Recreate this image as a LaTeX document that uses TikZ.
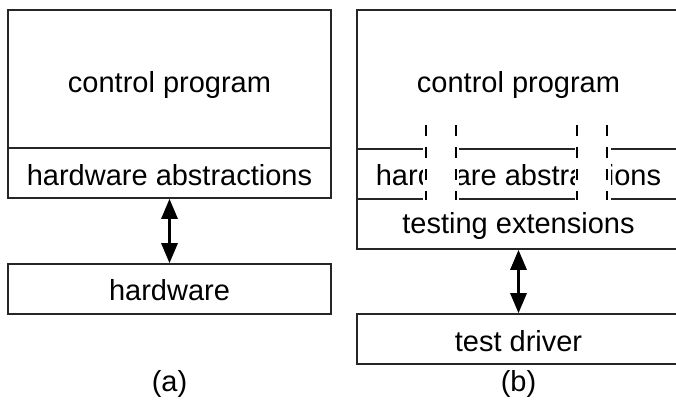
\documentclass[tikz,border=0pt]{standalone}
\usepackage{fontspec}
\setmainfont{Liberation Sans}
\usetikzlibrary{arrows.meta}
\begin{document}
\begin{tikzpicture}[x=1pt,y=-1pt,
  layer/.style={draw=black!85, line width=1.6pt, rectangle, inner sep=0pt, minimum width=323pt},
  lbl/.style={anchor=base, inner sep=0pt, font=\fontsize{29}{34}\selectfont},
  link/.style={line width=3pt, {Triangle[width=16pt,length=20pt]}-{Triangle[width=16pt,length=20pt]}},
  slit/.style={line width=1.3pt, dash pattern=on 11pt off 11pt},
]
\clip (0,0) rectangle (676,412);
\fill[white] (0,0) rectangle (676,412);

% (a) control program on the real hardware
\node[layer, minimum height=138pt] (cpa) at (169.5,79) {};
\node[layer, minimum height=50pt] (haa) at (169.5,173) {};
\node[layer, minimum height=50pt] (hwa) at (169.5,289) {};
\node[lbl] (tcpa) at (169.5,92) {control program};
\node[lbl] (thaa) at (169.5,185) {hardware abstractions};
\node[lbl] (thwa) at (169.5,300) {hardware};
\draw[link] (haa.south) -- (hwa.north);
\node[lbl] (capa) at (169.5,391) {(a)};

% (b) control program under test
\node[layer, minimum height=139pt] (cpb) at (518.5,79.5) {};
\node[layer, minimum height=50pt] (hab) at (518.5,174) {};
\node[layer, minimum height=50pt] (teb) at (518.5,224) {};
\node[layer, minimum height=50pt] (tdb) at (518.5,339) {};
\node[lbl] (tcpb) at (518.5,92) {control program};
\node[lbl] (thab) at (518.5,185) {hardware abstractions};
\node[lbl] (tteb) at (518.5,233) {testing extensions};
\node[lbl] (ttdb) at (518.5,351) {test driver};
\draw[link] (teb.south) -- (tdb.north);
\node[lbl] (capb) at (518.5,391) {(b)};

% calls that bypass the hardware abstractions
\fill[white] (423,121) rectangle (459,200.5);
\fill[white] (575,121) rectangle (611,200.5);
\foreach \x in {426,456,577,607}
  \draw[slit] (\x,125) -- (\x,200);
\end{tikzpicture}
\end{document}
